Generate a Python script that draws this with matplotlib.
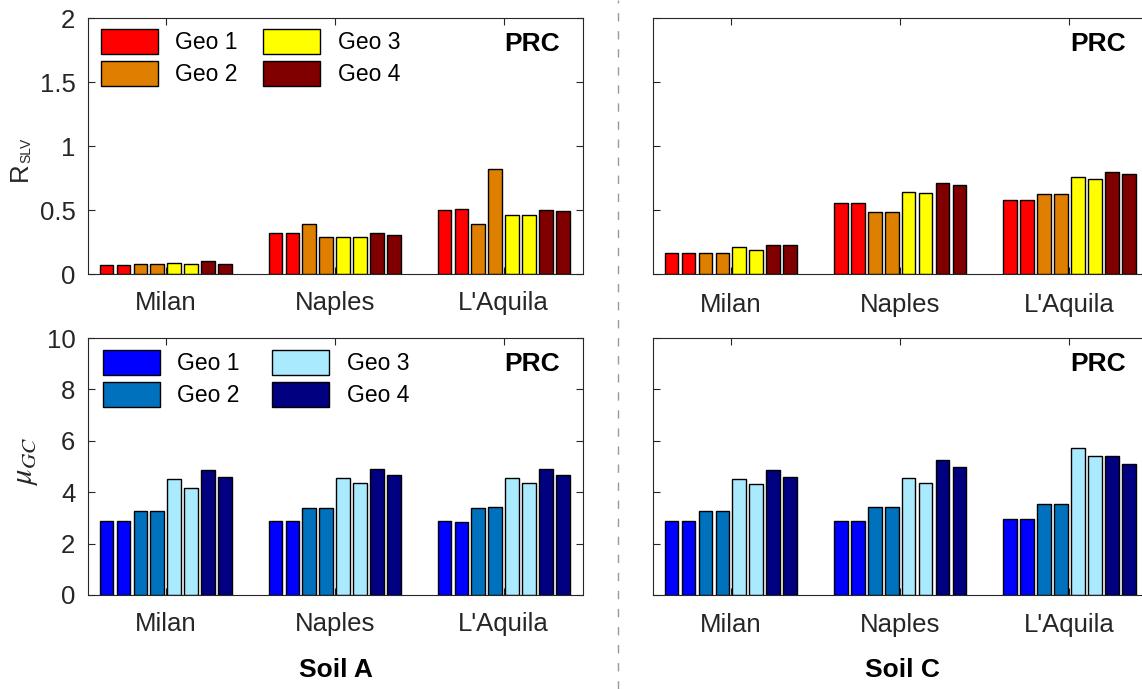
import matplotlib
matplotlib.use("Agg")
import matplotlib.pyplot as plt
import numpy as np
from matplotlib.patches import Patch
from matplotlib.lines import Line2D

plt.rcParams['font.family'] = ['Liberation Sans', 'DejaVu Sans']
plt.rcParams['mathtext.fontset'] = 'stix'

cities = ["Milan", "Naples", "L'Aquila"]
geo_labels = ["Geo 1", "Geo 2", "Geo 3", "Geo 4"]

# R_SLV values, 8 bars per city (2 per geo)
rslv_soilA = [
    [0.068, 0.068, 0.078, 0.078, 0.086, 0.078, 0.099, 0.078],
    [0.318, 0.318, 0.388, 0.289, 0.289, 0.289, 0.318, 0.307],
    [0.500, 0.510, 0.388, 0.820, 0.458, 0.458, 0.500, 0.490],
]
rslv_soilC = [
    [0.167, 0.167, 0.167, 0.167, 0.208, 0.190, 0.229, 0.229],
    [0.552, 0.552, 0.482, 0.482, 0.640, 0.633, 0.711, 0.693],
    [0.581, 0.581, 0.622, 0.622, 0.760, 0.742, 0.800, 0.781],
]
# mu_GC values
mu_soilA = [
    [2.89, 2.89, 3.26, 3.26, 4.50, 4.18, 4.87, 4.60],
    [2.89, 2.89, 3.40, 3.40, 4.57, 4.36, 4.91, 4.66],
    [2.89, 2.83, 3.40, 3.41, 4.57, 4.37, 4.91, 4.67],
]
mu_soilC = [
    [2.89, 2.89, 3.26, 3.26, 4.50, 4.30, 4.86, 4.60],
    [2.86, 2.86, 3.41, 3.41, 4.57, 4.37, 5.27, 5.00],
    [2.94, 2.94, 3.54, 3.54, 5.73, 5.42, 5.42, 5.10],
]

warm_colors = ["#FF0000", "#DF7F00", "#FFFF00", "#800000"]
cool_colors = ["#0000FF", "#0072BD", "#AAEAFF", "#000080"]

W, H = 1142, 689
fig = plt.figure(figsize=(W / 100, H / 100), dpi=100)

def fbox(x0, y0, x1, y1):
    return [x0 / W, 1 - y1 / H, (x1 - x0) / W, (y1 - y0) / H]

axes_pos = {
    (0, 0): fbox(88, 18, 583, 274),
    (0, 1): fbox(653, 18, 1149, 274),
    (1, 0): fbox(88, 338, 583, 595),
    (1, 1): fbox(653, 338, 1149, 595),
}

spine_col = "#262626"
tick_col = "#262626"
FS = 18.5
LFS = 16.5

pitch = 0.1
bw = 0.081

def draw_panel(ax, data, colors, ylim, yticks, show_ylabels, xpad=12,
               legend=False, colspace=1.1, leg_x=12, leg_y=12):
    xc = np.arange(1, len(cities) + 1)
    for ci, vals in enumerate(data):
        for bi, v in enumerate(vals):
            x = xc[ci] + (bi - 3.5) * pitch
            ax.bar(x, v, width=bw, color=colors[bi // 2], edgecolor="black",
                   linewidth=1.0, zorder=2)
    ax.set_xlim(0.54, 3.47)
    ax.set_ylim(*ylim)
    ax.set_xticks(xc)
    ax.set_xticklabels(cities, fontsize=FS, color=tick_col)
    ax.set_yticks(yticks)
    if show_ylabels:
        ax.set_yticklabels([f"{t:g}" for t in yticks], fontsize=FS, color=tick_col)
    else:
        ax.set_yticklabels([])
    ax.tick_params(direction="in", top=True, right=True, length=5, width=0.8,
                   colors=spine_col, labelcolor=tick_col)
    ax.tick_params(axis="y", pad=9)
    ax.tick_params(axis="x", pad=xpad)
    for s in ax.spines.values():
        s.set_color(spine_col)
        s.set_linewidth(0.8)
    ax.text(0.953, 0.9, "PRC", transform=ax.transAxes, ha="right", va="center",
            fontsize=19, fontweight="bold")
    if legend:
        handles = [Patch(facecolor=c, edgecolor="black", linewidth=1.0) for c in colors]
        ax.legend(handles, geo_labels, ncol=2, loc="upper left", frameon=False,
                  fontsize=LFS, handlelength=2.5, handleheight=1.3,
                  columnspacing=colspace, handletextpad=0.75, labelspacing=0.3,
                  borderaxespad=0.0, borderpad=0.0,
                  bbox_to_anchor=(leg_x / 495, 1 - leg_y / 256))

ax00 = fig.add_axes(axes_pos[(0, 0)])
draw_panel(ax00, rslv_soilA, warm_colors, (0, 2), [0, 0.5, 1, 1.5, 2], True,
           legend=True, colspace=1.1, leg_x=13, leg_y=11)
ax01 = fig.add_axes(axes_pos[(0, 1)])
draw_panel(ax01, rslv_soilC, warm_colors, (0, 2), [0, 0.5, 1, 1.5, 2], False, xpad=14)
ax10 = fig.add_axes(axes_pos[(1, 0)])
draw_panel(ax10, mu_soilA, cool_colors, (0, 10), [0, 2, 4, 6, 8, 10], True,
           legend=True, colspace=1.4, leg_x=15, leg_y=12)
ax11 = fig.add_axes(axes_pos[(1, 1)])
draw_panel(ax11, mu_soilC, cool_colors, (0, 10), [0, 2, 4, 6, 8, 10], False, xpad=13)

# R_SLV label with small subscript
fig.text(20 / W, 1 - 172 / H, "R", rotation=90, fontsize=FS, color=tick_col,
         ha="center", va="center")
fig.text(26 / W, 1 - 150 / H, "SLV", rotation=90, fontsize=10, color=tick_col,
         ha="center", va="center")
# mu_GC label
fig.text(25 / W, 1 - 461 / H, r"$\mu_{GC}$", rotation=90, fontsize=22, color=tick_col,
         ha="center", va="center")

fig.text(336 / W, 1 - 670 / H, "Soil A", fontsize=19, fontweight="bold",
         ha="center", va="center")
fig.text(902 / W, 1 - 670 / H, "Soil C", fontsize=19, fontweight="bold",
         ha="center", va="center")

fig.add_artist(Line2D([618 / W, 618 / W], [0, 1], transform=fig.transFigure,
                      color="#999999", linewidth=1.0, linestyle=(0, (6, 7))))

fig.savefig("out.png", dpi=100)
